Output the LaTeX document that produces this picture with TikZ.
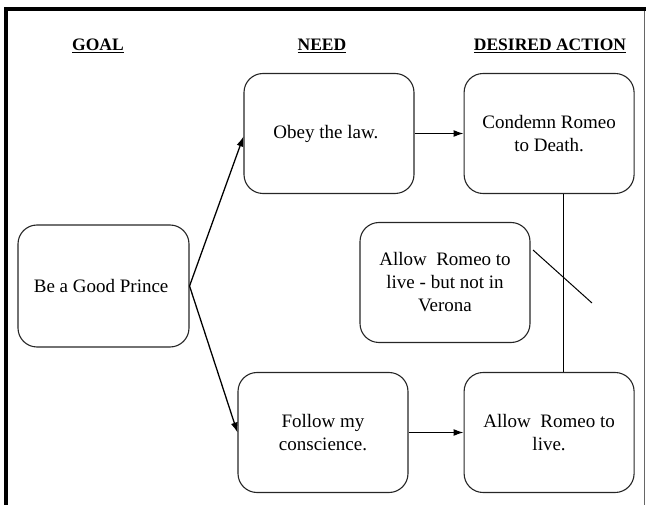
\documentclass[tikz,border=0pt]{standalone}
\usepackage{fontspec}
\setmainfont{Liberation Serif}
\usepackage{tikz}
\usetikzlibrary{shapes,arrows,arrows.meta,positioning}
\tikzstyle{block} = [draw=black!85, line width=1.1pt, rectangle, rounded corners=19pt, minimum height=120pt, minimum width=170pt, align=center, font=\fontsize{19}{23}\selectfont]
\tikzstyle{heading} = [anchor=base, inner sep=0pt, font=\fontsize{17.5}{20}\selectfont\bfseries]

\begin{document}
\begin{tikzpicture}[x=1pt, y=-1pt]
        \useasboundingbox (0,0) rectangle (646,505);
        % frame
        \draw[line width=4pt] (5.5,505) -- (5.5,9.5) -- (646,9.5);
        \draw[black!60, line width=1pt] (644,11) -- (644,505);

        \node [heading] (goalhead) at (98,51) {\underline{GOAL}};
        \node [heading] (needhead) at (322,51) {\underline{NEED}};
        \node [heading] (actionhead) at (550,51) {\underline{DESIRED ACTION}};

        \node [block, minimum width=171pt, minimum height=122pt] (goal) at (103.5,286) {
            Be a Good Prince
        };
        \node [block] (obey) at (329,133.5) {
            Obey the law.
        };
        \node [block] [right = 49pt of obey] (condemn) {
            Condemn Romeo\\to Death.
        };
        \node [block] (verona) at (445,282.5) {
            Allow~ Romeo to\\live - but not in\\Verona
        };
        \node [block] (follow) at (323,432.5) {
            Follow my\\conscience.
        };
        \node [block] [right = 55pt of follow] (live) {
            Allow~ Romeo to\\live.
        };

        \coordinate (cutA) at (533,250);
        \coordinate (cutB) at (592,303);

        \draw[-{Latex[length=10pt,width=7pt]}, line width = 0.45mm] (goal.east) -- ([yshift=-3pt]obey.west);
        \draw[-{Latex[length=10pt,width=7pt]}, line width = 0.45mm] (goal.east) -- (follow.west);
        \draw[-{Latex[length=10pt,width=7pt]}, line width = 0.45mm] (obey.east) -- (condemn.west);
        \draw[-{Latex[length=10pt,width=7pt]}, line width = 0.45mm] (follow.east) -- (live.west);
        \draw[line width = 0.35mm] ([xshift=14pt]condemn.south) -- ([xshift=14pt]condemn.south |- live.north);
        \draw[line width = 0.35mm] (cutA) -- (cutB);
    \end{tikzpicture}
\end{document}
